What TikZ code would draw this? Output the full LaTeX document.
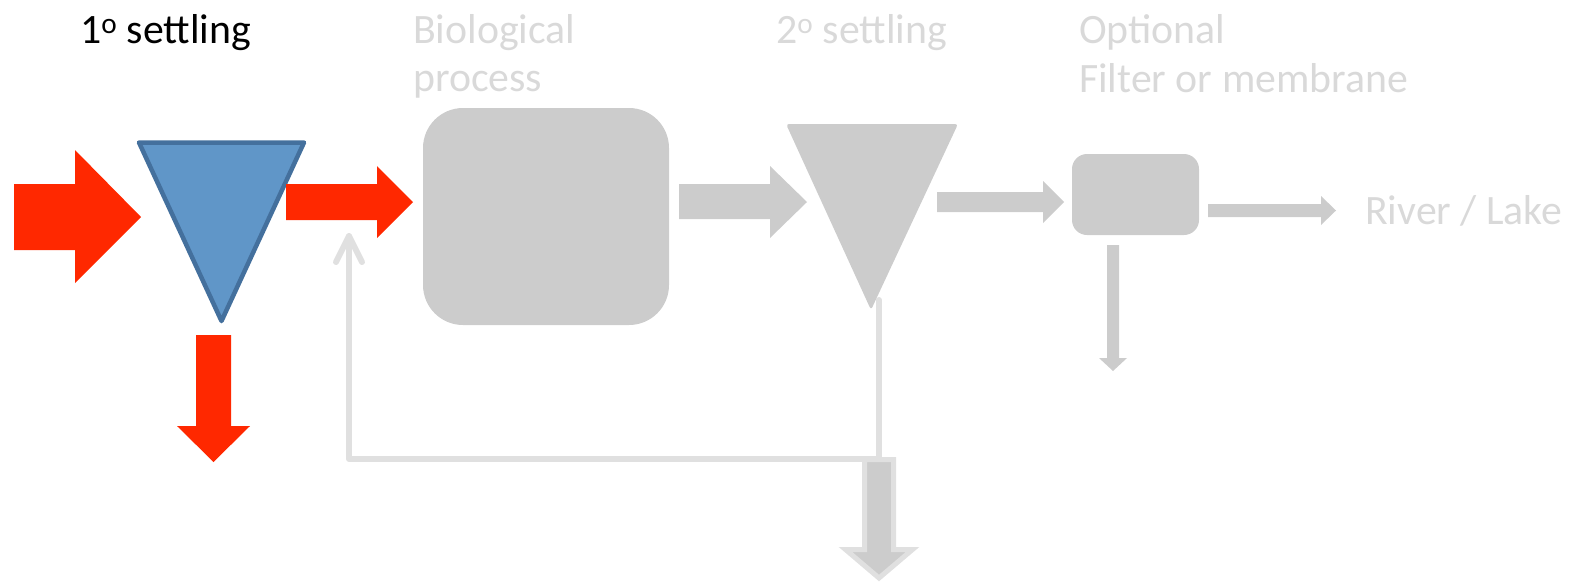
\documentclass[tikz,border=0pt]{standalone}
\usepackage{fontspec}
\setmainfont{Carlito}
\definecolor{redflow}{RGB}{255,40,0}
\definecolor{bluefill}{RGB}{96,150,200}
\definecolor{bluedraw}{RGB}{68,112,157}
\definecolor{shapegray}{RGB}{204,204,204}
\definecolor{textgray}{RGB}{217,217,217}
\definecolor{linegray}{RGB}{224,224,224}
\tikzset{
  lbl/.style={anchor=base west, inner sep=0pt, font=\fontsize{41.8}{50}\selectfont},
  dimlbl/.style={lbl, text=textgray},
  procbox/.style={fill=shapegray, draw=none, inner sep=0pt},
  redarrow/.style={fill=redflow, draw=none},
  grayarrow/.style={fill=shapegray, draw=none},
  recycle/.style={draw=linegray, line width=6pt, line cap=round, line join=round},
  wastearrow/.style={fill=shapegray, draw=linegray, line width=5pt, line join=miter}
}
\begin{document}
\begin{tikzpicture}[x=1pt,y=-1pt]
\useasboundingbox (0,0) rectangle (1576,582);

% labels
\node[lbl] (l1) at (80,43) {1\textsuperscript{o} settling};
\node[dimlbl] (l2a) at (413,43) {Biological};
\node[dimlbl] (l2b) at (413,91) {process};
\node[dimlbl] (l3) at (776,43) {2\textsuperscript{o} settling};
\node[dimlbl] (l4a) at (1079,43) {Optional};
\node[dimlbl] (l4b) at (1079,92) {Filter or membrane};
\node[dimlbl] (l5) at (1365,224) {River / Lake};

% recycle line (behind)
\coordinate (rtop) at (879,300);
\coordinate (rtip) at (349,236);
\draw[recycle] (rtop) |- (349,459) -- (rtip);
\draw[recycle] (336,262) -- (rtip) -- (362,262);

% primary settling
\draw[redarrow] (14,184) -- (75,184) -- (75,150) -- (141,217) -- (75,283) -- (75,250) -- (14,250) -- cycle;
\draw[fill=bluefill, draw=bluedraw, line width=4.5pt, line join=round]
  (139,142.5) -- (304,142.5) -- (221.5,321) -- cycle;
\coordinate (t1) at (221.5,321);
\draw[redarrow] (286,184) -- (377,184) -- (377,166) -- (413,202) -- (377,238) -- (377,220) -- (286,220) -- cycle;
\draw[redarrow] (196,335) -- (231,335) -- (231,426) -- (250,426) -- (213.5,462) -- (177,426) -- (196,426) -- cycle;

% biological process
\node[procbox, rounded corners=40pt, minimum width=246pt, minimum height=217pt] (bio) at (546,216.5) {};
\draw[grayarrow] (679,184) -- (770,184) -- (770,166) -- (807,202) -- (770,238) -- (770,219) -- (679,219) -- cycle;

% secondary settling
\fill[shapegray, rounded corners=3pt] (786,124) -- (958,124) -- (871,310) -- cycle;
\draw[grayarrow] (937,192) -- (1043,192) -- (1043,181) -- (1064,202) -- (1043,223) -- (1043,212) -- (937,212) -- cycle;

% waste sludge arrow
\draw[wastearrow] (864.5,459.5) -- (893.5,459.5) -- (893.5,549.5) -- (912.5,549.5) -- (879,578) -- (845.5,549.5) -- (864.5,549.5) -- cycle;

% filter / membrane
\node[procbox, rounded corners=15pt, minimum width=127pt, minimum height=81pt] (filt) at (1135.5,194.5) {};
\draw[grayarrow] (1208,204) -- (1321,204) -- (1321,196) -- (1336,210.5) -- (1321,225) -- (1321,217) -- (1208,217) -- cycle;
\draw[grayarrow] (1107,245) -- (1119,245) -- (1119,358) -- (1127,358) -- (1113,371) -- (1099,358) -- (1107,358) -- cycle;
\end{tikzpicture}
\end{document}
